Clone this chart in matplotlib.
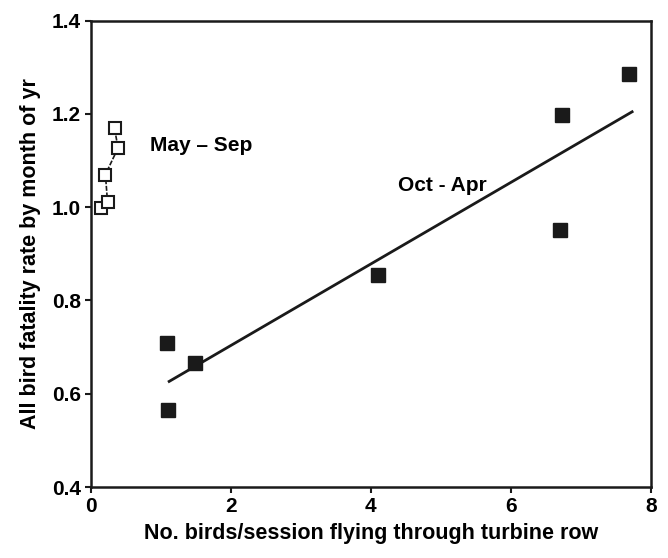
import matplotlib.pyplot as plt
import numpy as np

plt.rcParams['font.family'] = ['Liberation Sans', 'DejaVu Sans']
plt.rcParams['font.weight'] = 'bold'

# Oct - Apr (filled squares)
winter_x = [1.09, 1.11, 1.49, 4.10, 6.70, 6.73, 7.68]
winter_y = [0.708, 0.565, 0.666, 0.854, 0.952, 1.197, 1.285]

# May - Sep (open squares, joined in order)
summer_x = [0.15, 0.24, 0.21, 0.39, 0.34]
summer_y = [0.998, 1.011, 1.070, 1.127, 1.169]

xticks = [0, 2, 4, 6, 8]
yticks = [0.4, 0.6, 0.8, 1.0, 1.2, 1.4]

fig = plt.figure(figsize=(6.68, 5.58), dpi=100)
ax = fig.add_axes([0.1358, 0.1272, 0.8388, 0.8358])

# regression line for Oct - Apr
slope, icpt = np.polyfit(winter_x, winter_y, 1)
fx = np.array([min(winter_x) + 0.03, max(winter_x) + 0.05])
ax.plot(fx, slope * fx + icpt, color='#1a1a1a', lw=2, zorder=2)

ax.plot(summer_x, summer_y, color='#1a1a1a', lw=1.2, ls=(0, (3, 1)), zorder=2)
ax.plot(summer_x, summer_y, 's', ms=8.5, mfc='white', mec='#1a1a1a', mew=1.5, ls='none', zorder=3)
ax.plot(winter_x, winter_y, 's', ms=9.5, mfc='#1a1a1a', mec='#1a1a1a', ls='none', zorder=3)

ax.text(0.84, 1.132, 'May – Sep', fontsize=15, fontweight='bold', va='center', ha='left')
ax.text(4.39, 1.047, 'Oct - Apr', fontsize=15, fontweight='bold', va='center', ha='left')

ax.set_xlim(0, 8)
ax.set_ylim(0.4, 1.4)
ax.set_xticks(xticks)
ax.set_xticklabels([str(t) for t in xticks])
ax.set_yticks(yticks)
ax.set_yticklabels(['%.1f' % t for t in yticks])
ax.tick_params(direction='out', length=4, width=1.5, labelsize=15, pad=3, color='#1a1a1a')
for s in ax.spines.values():
    s.set_linewidth(1.8)
    s.set_color('#1a1a1a')

ax.set_xlabel('No. birds/session flying through turbine row', fontsize=15.5, fontweight='bold', labelpad=5)
ax.set_ylabel('All bird fatality rate by month of yr', fontsize=15.5, fontweight='bold', labelpad=8)

fig.savefig('out.png', dpi=100)
